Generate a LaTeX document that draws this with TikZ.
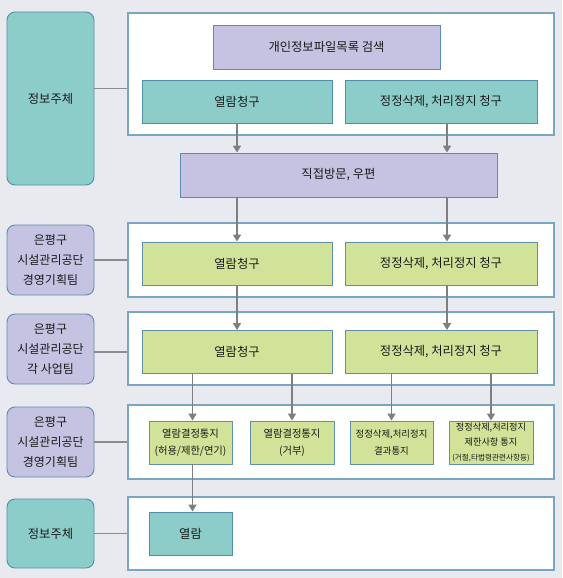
\documentclass[tikz,border=0pt]{standalone}
\usepackage{fontspec}
\setmainfont{Noto Sans CJK KR}
\usetikzlibrary{arrows.meta,positioning}
\definecolor{pagebg}{HTML}{E9EAF0}
\definecolor{tealfill}{HTML}{8CCDCA}
\definecolor{tealline}{HTML}{4F8FA8}
\definecolor{lavfill}{HTML}{C5C3E1}
\definecolor{lavline}{HTML}{5C8DB0}
\definecolor{greenfill}{HTML}{D1E299}
\definecolor{greenline}{HTML}{5F92A9}
\definecolor{panelline}{HTML}{7AA7C0}
\definecolor{arrowgray}{HTML}{7F7F7F}
\definecolor{ink}{HTML}{1A1A1A}
\tikzset{
  box/.style={rectangle, draw=tealline, line width=0.9pt, align=center, inner sep=1pt,
              text=ink, font=\fontsize{12.3}{14}\selectfont},
  subjbox/.style={box, rounded corners=8pt, fill=tealfill, minimum width=87pt},
  teambox/.style={box, rounded corners=8pt, fill=lavfill, draw=lavline, minimum width=87pt,
                  minimum height=70pt, font=\fontsize{12}{20}\selectfont},
  panel/.style={rectangle, draw=panelline, line width=1.1pt, fill=white, minimum width=426pt},
  tealbox/.style={box, fill=tealfill, minimum height=43pt},
  lavbox/.style={box, fill=lavfill, draw=lavline, minimum height=44pt},
  greenbox/.style={box, fill=greenfill, draw=greenline, minimum height=43pt},
  notebox/.style={greenbox, minimum width=83pt, font=\fontsize{10.3}{17}\selectfont},
  flow/.style={-{Triangle[width=8pt,length=7pt]}, draw=arrowgray, line width=1.6pt},
  link/.style={draw=arrowgray!90, line width=1.4pt}
}

\begin{document}
\begin{tikzpicture}[x=1pt, y=-1pt]
  \fill[pagebg] (0,0) rectangle (562,578);
  \useasboundingbox (0,0) rectangle (562,578);

  \node[subjbox, minimum height=173pt] (s1) at (50.5,98.5) {정보주체};
  \node[teambox] (t1) at (50.5,260) {은평구\\시설관리공단\\경영기획팀};
  \node[teambox] (t2) at (50.5,349) {은평구\\시설관리공단\\각 사업팀};
  \node[teambox] (t3) at (50.5,442) {은평구\\시설관리공단\\경영기획팀};
  \node[subjbox, minimum height=69pt] (s2) at (50.5,533.5) {정보주체};

  \node[panel, minimum height=122pt] (p1) at (341,74) {};
  \node[panel, minimum height=74pt] (p2) at (341,260) {};
  \node[panel, minimum height=73pt] (p3) at (341,348.5) {};
  \node[panel, minimum height=74pt] (p4) at (341,442) {};
  \node[panel, minimum height=73pt] (p5) at (341,533.5) {};

  \node[lavbox, minimum width=227pt] (search) at (326.5,47) {개인정보파일목록 검색};
  \node[tealbox, minimum width=190pt] (req1) at (237,101.5) {열람청구};
  \node[tealbox, minimum width=192pt] (cor1) at (441,101.5) {정정삭제, 처리정지 청구};
  \node[lavbox, minimum width=317pt] (visit) at (338.5,175) {직접방문, 우편};

  \node[greenbox, minimum width=190pt] (req2) at (237,263.5) {열람청구};
  \node[greenbox, minimum width=192pt] (cor2) at (441,263.5) {정정삭제, 처리정지 청구};
  \node[greenbox, minimum width=190pt] (req3) at (237,352) {열람청구};
  \node[greenbox, minimum width=192pt] (cor3) at (441,352) {정정삭제, 처리정지 청구};

  \node[notebox] (n1) at (190.5,442.5) {열람결정통지\\(허용/제한/연기)};
  \node[notebox, minimum width=84pt] (n2) at (292,442.5) {열람결정통지\\(거부)};
  \node[notebox, font=\fontsize{9.4}{17}\selectfont] (n3) at (391.5,442.5) {정정삭제,처리정지\\결과통지};
  \node[notebox, minimum width=84pt, font=\fontsize{9.2}{15}\selectfont] (n4) at (491,442.5)
    {정정삭제,처리정지\\제한사항 통지\\{\fontsize{7.6}{15}\selectfont(거절,타법령관련사항등)}};

  \node[tealbox, minimum width=83pt] (view) at (190.5,533.5) {열람};

  \draw[link] ([yshift=10pt]s1.east) -- ([yshift=10pt]s1.east -| p1.west);
  \draw[link] (t1.east) -- (t1.east -| p2.west);
  \draw[link] ([yshift=-3pt]t2.east) -- ([yshift=-3pt]t2.east -| p3.west);
  \draw[link] (t3.east) -- (t3.east -| p4.west);
  \draw[link] (s2.east) -- (s2.east -| p5.west);

  \draw[flow] (req1.south) -- (req1.south |- visit.north);
  \draw[flow] ([xshift=6pt]cor1.south) -- ([xshift=6pt]cor1.south |- visit.north);
  \draw[flow] (visit.south -| req2.north) -- (req2.north);
  \draw[flow] ([xshift=6pt]visit.south -| cor2.north) -- ([xshift=6pt]cor2.north);
  \draw[flow] (req2.south) -- (req3.north);
  \draw[flow] ([xshift=6pt]cor2.south) -- ([xshift=6pt]cor3.north);
  \draw[flow] ([xshift=2pt]req3.south -| n1.north) -- ([xshift=2pt]n1.north);
  \draw[flow] (req3.south -| n2.north) -- (n2.north);
  \draw[flow] (cor3.south -| n3.north) -- (n3.north);
  \draw[flow] (cor3.south -| n4.north) -- (n4.north);
  \draw[flow] ([xshift=2pt]n1.south) -- ([xshift=2pt]view.north);
\end{tikzpicture}
\end{document}
